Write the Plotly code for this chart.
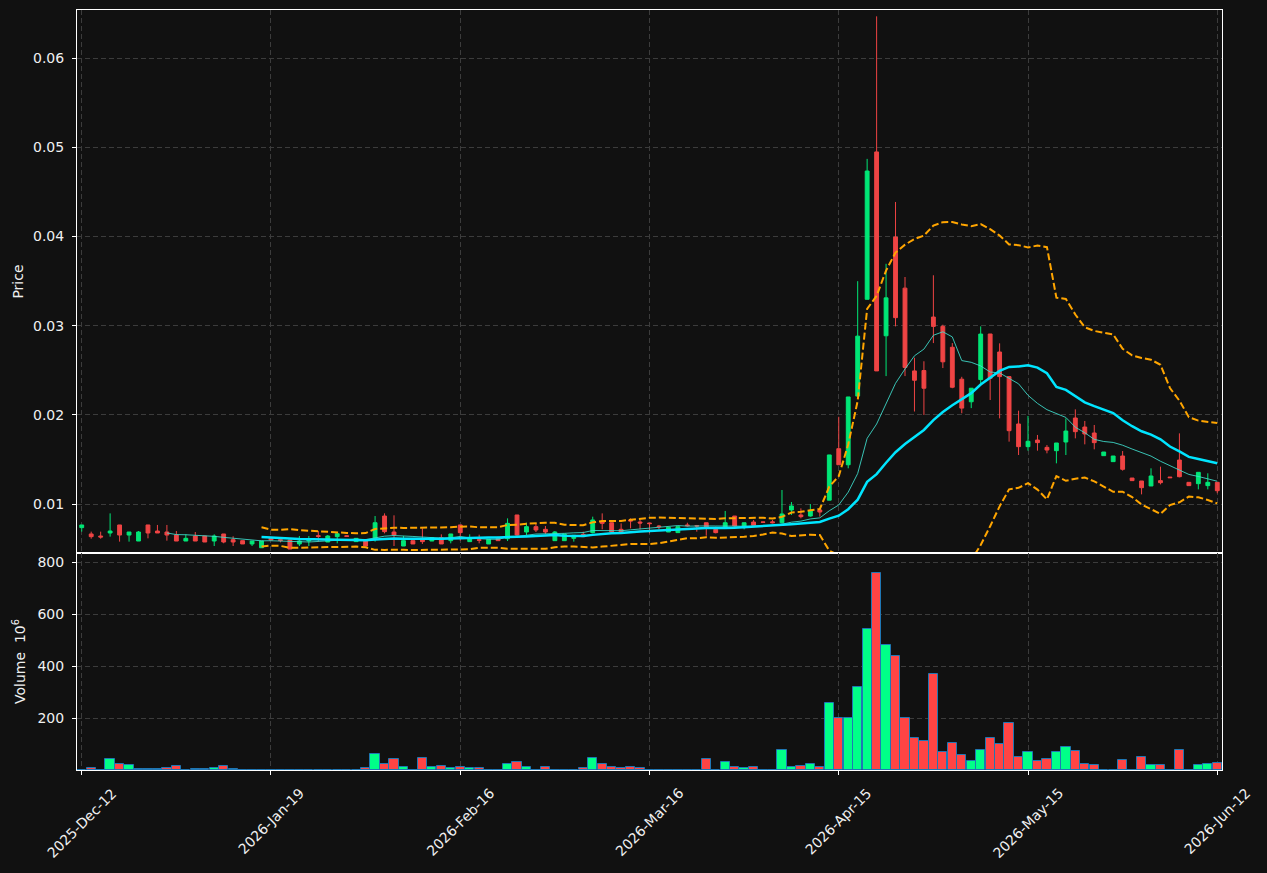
import plotly.graph_objects as go
import pandas as pd

# ---------------- data ----------------
tick_positions = [0, 20, 40, 60, 80, 100, 120]
tick_labels = ["2025-Dec-12", "2026-Jan-19", "2026-Feb-16", "2026-Mar-16",
               "2026-Apr-15", "2026-May-15", "2026-Jun-12"]

open_ = [0.00735, 0.00664, 0.00641, 0.00675, 0.00765, 0.00652, 0.00585, 0.00765, 0.00697, 0.00686,
         0.00652, 0.00585, 0.00641, 0.00641, 0.00585, 0.00664, 0.00600, 0.00589, 0.00552, 0.00510,
         0.00619, 0.00600, 0.00596, 0.00552, 0.00585, 0.00645, 0.00574, 0.00634, 0.00644, 0.00578,
         0.00596, 0.00611, 0.00865, 0.00686, 0.00529, 0.00589, 0.00604, 0.00585, 0.00622, 0.00589,
         0.00765, 0.00578, 0.00600, 0.00552, 0.00615, 0.00611, 0.00877, 0.00686, 0.00746, 0.00716,
         0.00589, 0.00589, 0.00615, 0.00660, 0.00679, 0.00802, 0.00790, 0.00716, 0.00821, 0.00798,
         0.00787, 0.00753, 0.00686, 0.00679, 0.00765, 0.00757, 0.00790, 0.00716, 0.00735, 0.00865,
         0.00735, 0.00798, 0.00799, 0.00800, 0.00790, 0.00933, 0.00877, 0.00865, 0.00933, 0.01043,
         0.01620, 0.01440, 0.02210, 0.03295, 0.04947, 0.02886, 0.03993, 0.03420, 0.02492, 0.02496,
         0.03096, 0.02991, 0.02757, 0.02399, 0.02146, 0.02395, 0.02906, 0.02704, 0.02428, 0.01897,
         0.01643, 0.01717, 0.01635, 0.01598, 0.01695, 0.01964, 0.01863, 0.01796, 0.01542, 0.01475,
         0.01538, 0.01291, 0.01258, 0.01202, 0.01262, 0.01302, 0.01493, 0.01243, 0.01228, 0.01206,
         0.01243]
high = [0.00765, 0.00690, 0.00690, 0.00895, 0.00765, 0.00686, 0.00697, 0.00765, 0.00765, 0.00765,
        0.00697, 0.00660, 0.00686, 0.00641, 0.00660, 0.00664, 0.00638, 0.00589, 0.00585, 0.00585,
        0.00625, 0.00610, 0.00600, 0.00641, 0.00641, 0.00697, 0.00652, 0.00667, 0.00648, 0.00615,
        0.00600, 0.00865, 0.00895, 0.00873, 0.00641, 0.00589, 0.00727, 0.00622, 0.00660, 0.00664,
        0.00765, 0.00660, 0.00656, 0.00604, 0.00634, 0.00839, 0.00877, 0.00790, 0.00783, 0.00753,
        0.00697, 0.00664, 0.00649, 0.00690, 0.00858, 0.00895, 0.00790, 0.00783, 0.00839, 0.00821,
        0.00787, 0.00765, 0.00738, 0.00746, 0.00790, 0.00765, 0.00790, 0.00746, 0.00922, 0.00865,
        0.00790, 0.00821, 0.00802, 0.00821, 0.01157, 0.01022, 0.00951, 0.01000, 0.00951, 0.01550,
        0.01978, 0.02200, 0.03498, 0.04869, 0.06467, 0.03693, 0.04386, 0.03545, 0.02640, 0.02600,
        0.03564, 0.03010, 0.02804, 0.02426, 0.02298, 0.02991, 0.02906, 0.02801, 0.02430, 0.02046,
        0.01987, 0.01774, 0.01661, 0.01684, 0.01960, 0.02061, 0.01931, 0.01886, 0.01583, 0.01538,
        0.01594, 0.01291, 0.01258, 0.01400, 0.01419, 0.01302, 0.01792, 0.01243, 0.01355, 0.01344,
        0.01243]
low = [0.00690, 0.00611, 0.00611, 0.00634, 0.00578, 0.00578, 0.00585, 0.00615, 0.00675, 0.00589,
       0.00585, 0.00585, 0.00585, 0.00574, 0.00529, 0.00560, 0.00529, 0.00552, 0.00529, 0.00510,
       0.00596, 0.00570, 0.00495, 0.00529, 0.00529, 0.00574, 0.00574, 0.00559, 0.00634, 0.00578,
       0.00529, 0.00578, 0.00671, 0.00529, 0.00529, 0.00552, 0.00552, 0.00585, 0.00552, 0.00559,
       0.00589, 0.00578, 0.00559, 0.00552, 0.00589, 0.00585, 0.00634, 0.00652, 0.00686, 0.00664,
       0.00589, 0.00589, 0.00578, 0.00634, 0.00671, 0.00716, 0.00686, 0.00671, 0.00727, 0.00716,
       0.00671, 0.00716, 0.00686, 0.00679, 0.00746, 0.00690, 0.00645, 0.00671, 0.00735, 0.00746,
       0.00716, 0.00761, 0.00795, 0.00783, 0.00783, 0.00877, 0.00839, 0.00858, 0.00858, 0.01043,
       0.01440, 0.01400, 0.02210, 0.03295, 0.02492, 0.02434, 0.02991, 0.02434, 0.02037, 0.01998,
       0.02804, 0.02524, 0.02298, 0.02017, 0.02075, 0.02348, 0.02166, 0.01960, 0.01699, 0.01549,
       0.01598, 0.01598, 0.01568, 0.01456, 0.01549, 0.01736, 0.01669, 0.01613, 0.01542, 0.01475,
       0.01374, 0.01262, 0.01108, 0.01202, 0.01220, 0.01295, 0.01299, 0.01206, 0.01164, 0.01164,
       0.01120]
close = [0.00765, 0.00634, 0.00630, 0.00697, 0.00652, 0.00686, 0.00686, 0.00675, 0.00675, 0.00652,
         0.00585, 0.00615, 0.00585, 0.00574, 0.00641, 0.00574, 0.00574, 0.00552, 0.00585, 0.00585,
         0.00596, 0.00590, 0.00495, 0.00585, 0.00604, 0.00637, 0.00641, 0.00667, 0.00637, 0.00615,
         0.00529, 0.00790, 0.00690, 0.00652, 0.00589, 0.00552, 0.00578, 0.00622, 0.00552, 0.00664,
         0.00679, 0.00615, 0.00593, 0.00604, 0.00589, 0.00783, 0.00652, 0.00746, 0.00709, 0.00686,
         0.00686, 0.00664, 0.00649, 0.00634, 0.00821, 0.00783, 0.00686, 0.00686, 0.00810, 0.00787,
         0.00780, 0.00746, 0.00738, 0.00746, 0.00757, 0.00753, 0.00738, 0.00679, 0.00790, 0.00753,
         0.00790, 0.00761, 0.00795, 0.00790, 0.00888, 0.00978, 0.00858, 0.00922, 0.00910, 0.01550,
         0.01440, 0.02200, 0.02882, 0.04733, 0.02492, 0.03311, 0.03089, 0.02531, 0.02387, 0.02298,
         0.02991, 0.02594, 0.02309, 0.02075, 0.02298, 0.02905, 0.02409, 0.02428, 0.01822, 0.01643,
         0.01703, 0.01688, 0.01605, 0.01684, 0.01818, 0.01811, 0.01785, 0.01688, 0.01583, 0.01538,
         0.01389, 0.01262, 0.01183, 0.01314, 0.01239, 0.01295, 0.01306, 0.01206, 0.01355, 0.01243,
         0.01149]
volume_millions = [1, 6, 1, 41, 22, 18, 2, 2, 2, 6,
                   14, 0, 2, 2, 6, 14, 2, 0, 0, 0,
                   0, 0, 1, 1, 1, 1, 0, 1, 0, 1,
                   6, 63, 22, 41, 10, 1, 45, 10, 14, 6,
                   10, 6, 6, 1, 0, 22, 29, 10, 1, 10,
                   1, 1, 1, 6, 45, 22, 10, 6, 10, 6,
                   1, 1, 1, 1, 1, 0, 41, 1, 29, 10,
                   6, 10, 0, 0, 76, 10, 14, 22, 10, 256,
                   199, 199, 318, 541, 756, 479, 437, 199, 122, 110,
                   368, 68, 103, 56, 33, 76, 122, 99, 179, 49,
                   68, 33, 41, 68, 87, 72, 22, 18, 0, 0,
                   37, 0, 49, 18, 18, 0, 76, 1, 18, 22,
                   26]

# ---------------- styling ----------------
BG = "#111111"
UP = "#00e676"
DOWN = "#ef4444"
VOL_UP = "#00ff88"
VOL_DOWN = "#ff4444"
GRID = "#3c3c3c"
TXT = "#f0f0f0"

x = list(range(len(close)))
s = pd.Series(close)
ma10 = s.rolling(10).mean()
ma20 = s.rolling(20).mean()
sd20 = s.rolling(20).std(ddof=0)
upper = ma20 + 2 * sd20
lower = ma20 - 2 * sd20

vol_colors = [VOL_UP if c >= o else VOL_DOWN for o, c in zip(open_, close)]

fig = go.Figure()
fig.add_trace(go.Candlestick(
    x=x, open=open_, high=high, low=low, close=close,
    increasing=dict(line=dict(color=UP, width=1), fillcolor=UP),
    decreasing=dict(line=dict(color=DOWN, width=1), fillcolor=DOWN),
    whiskerwidth=0, xaxis="x", yaxis="y", showlegend=False))
fig.add_trace(go.Scatter(x=x, y=upper, mode="lines", xaxis="x", yaxis="y",
                         line=dict(color="#ffa500", width=2, dash="7px,3px"), showlegend=False))
fig.add_trace(go.Scatter(x=x, y=lower, mode="lines", xaxis="x", yaxis="y",
                         line=dict(color="#ffa500", width=2, dash="7px,3px"), showlegend=False))
fig.add_trace(go.Scatter(x=x, y=ma10, mode="lines", xaxis="x", yaxis="y",
                         line=dict(color="rgba(64,224,208,0.85)", width=1), showlegend=False))
fig.add_trace(go.Scatter(x=x, y=ma20, mode="lines", xaxis="x", yaxis="y",
                         line=dict(color="#00e5ff", width=2.5), showlegend=False))
fig.add_trace(go.Bar(x=x, y=volume_millions, xaxis="x2", yaxis="y2", width=0.98,
                     marker=dict(color=vol_colors, line=dict(color="#1f77b4", width=1)),
                     showlegend=False))

split = 217 / 760
axis_common = dict(showline=True, mirror=True, linecolor="white", linewidth=1,
                   gridcolor=GRID, griddash="5px,3px", gridwidth=1, zeroline=False,
                   automargin=False)

fig.update_layout(
    width=1267, height=873,
    paper_bgcolor=BG, plot_bgcolor=BG,
    margin=dict(l=77, r=45, t=10, b=103),
    font=dict(family="DejaVu Sans", size=14, color=TXT),
    boxgap=0.42, bargap=0,
    showlegend=False,
    xaxis=dict(domain=[0, 1], anchor="y", range=[-0.5, 120.5], tickvals=tick_positions,
               showticklabels=False, ticks="", rangeslider=dict(visible=False),
               showgrid=True, **axis_common),
    yaxis=dict(domain=[split, 1], anchor="x", range=[0.004507, 0.065381],
               tickvals=[0.01, 0.02, 0.03, 0.04, 0.05, 0.06],
               ticktext=["0.01", "0.02", "0.03", "0.04", "0.05", "0.06"],
               ticks="outside", ticklen=4, tickcolor="white", ticklabelstandoff=5,
               title=dict(text="Price", standoff=6, font=dict(size=14, color=TXT)),
               showgrid=True, **axis_common),
    xaxis2=dict(domain=[0, 1], anchor="y2", range=[-0.5, 120.5], tickvals=tick_positions,
                showticklabels=False, ticks="outside", ticklen=4, tickcolor="white",
                showgrid=True, matches="x", **axis_common),
    yaxis2=dict(domain=[0, split], anchor="x2", range=[0, 834.6],
                tickvals=[200, 400, 600, 800], ticktext=["200", "400", "600", "800"],
                ticks="outside", ticklen=4, tickcolor="white", ticklabelstandoff=5,
                title=dict(text="Volume\u00a0 10<sup>6</sup>", standoff=8, font=dict(size=14, color=TXT)),
                showgrid=True, **axis_common),
)

for pos, lab in zip(tick_positions, tick_labels):
    fig.add_annotation(x=pos, xref="x2", y=-12 / 760, yref="paper", text=lab,
                       textangle=-45, showarrow=False, xanchor="center", yanchor="top",
                       font=dict(family="DejaVu Sans", size=14, color=TXT))

fig.write_html("out.html")
